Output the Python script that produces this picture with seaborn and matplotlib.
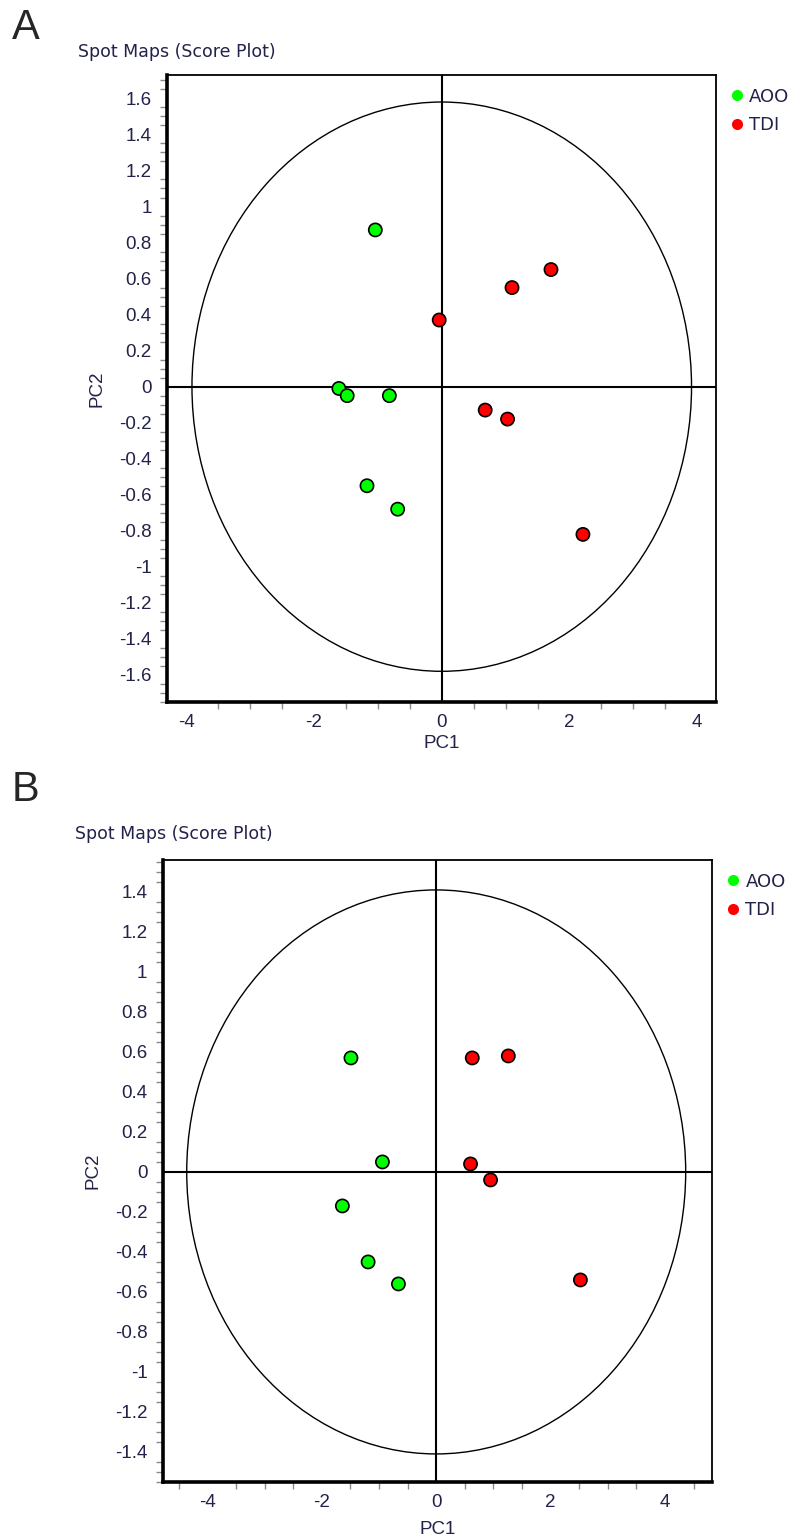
import matplotlib

matplotlib.use("Agg")

import matplotlib.pyplot as plt
import pandas as pd
import seaborn as sns
from matplotlib.lines import Line2D
from matplotlib.patches import Ellipse
from matplotlib.ticker import FixedLocator, FuncFormatter, MultipleLocator


GROUPS = ["AOO", "TDI"]
GROUP_COLORS = {"AOO": "#00ff00", "TDI": "#ff0000"}

# panel A scores
A_AOO_PC1 = [-1.04, -1.61, -1.48, -0.82, -1.17, -0.69]
A_AOO_PC2 = [0.87, -0.01, -0.05, -0.05, -0.55, -0.68]
A_TDI_PC1 = [1.71, 1.10, -0.04, 0.68, 1.03, 2.21]
A_TDI_PC2 = [0.65, 0.55, 0.37, -0.13, -0.18, -0.82]
A_ELLIPSE_AXES = [3.91, 1.58]  # Hotelling T2 semi-axes (PC1, PC2)
A_XTICKS = [-4, -2, 0, 2, 4]
A_YTICKS = [-1.6, -1.4, -1.2, -1.0, -0.8, -0.6, -0.4, -0.2, 0.0,
            0.2, 0.4, 0.6, 0.8, 1.0, 1.2, 1.4, 1.6]

# panel B scores
B_AOO_PC1 = [-1.49, -0.94, -1.64, -1.19, -0.66]
B_AOO_PC2 = [0.57, 0.05, -0.17, -0.45, -0.56]
B_TDI_PC1 = [0.63, 1.26, 0.60, 0.95, 2.52]
B_TDI_PC2 = [0.57, 0.58, 0.04, -0.04, -0.54]
B_ELLIPSE_AXES = [4.36, 1.41]
B_XTICKS = [-4, -2, 0, 2, 4]
B_YTICKS = [-1.4, -1.2, -1.0, -0.8, -0.6, -0.4, -0.2, 0.0,
            0.2, 0.4, 0.6, 0.8, 1.0, 1.2, 1.4]

TICK_FONT = "Liberation Sans"
UI_FONT = "DejaVu Sans"
TEXT_COLOR = "#22224a"


def scores_frame(aoo_x, aoo_y, tdi_x, tdi_y) -> pd.DataFrame:
    aoo = pd.DataFrame({"PC1": aoo_x, "PC2": aoo_y, "group": "AOO"})
    tdi = pd.DataFrame({"PC1": tdi_x, "PC2": tdi_y, "group": "TDI"})
    return pd.concat([aoo, tdi], ignore_index=True)


def fmt_tick(value, _pos) -> str:
    value = round(value, 2)
    if value == 0:
        return "0"
    return f"{value:g}"


def draw_panel(ax, data, ellipse_axes, xlim, ylim, xticks, yticks, xlabel_y, ylabel_x):
    ax.axhline(0, color="black", linewidth=1.5, zorder=1)
    ax.axvline(0, color="black", linewidth=1.5, zorder=1)
    ax.add_patch(
        Ellipse((0, 0), 2 * ellipse_axes[0], 2 * ellipse_axes[1],
                fill=False, edgecolor="black", linewidth=1.0, zorder=1)
    )
    sns.scatterplot(
        data=data,
        x="PC1",
        y="PC2",
        hue="group",
        hue_order=GROUPS,
        palette=GROUP_COLORS,
        s=90,
        edgecolor="black",
        linewidth=1.2,
        legend=False,
        zorder=3,
        ax=ax,
    )
    ax.set_xlim(*xlim)
    ax.set_ylim(*ylim)

    ax.xaxis.set_major_locator(FixedLocator(xticks))
    ax.yaxis.set_major_locator(FixedLocator(yticks))
    ax.xaxis.set_minor_locator(MultipleLocator(0.5))
    ax.yaxis.set_minor_locator(MultipleLocator(0.05))
    ax.xaxis.set_major_formatter(FuncFormatter(fmt_tick))
    ax.yaxis.set_major_formatter(FuncFormatter(fmt_tick))
    ax.tick_params(which="major", length=0, labelsize=13.5, labelcolor=TEXT_COLOR)
    ax.tick_params(axis="y", which="major", pad=11)
    ax.tick_params(axis="x", which="major", pad=9)
    ax.tick_params(which="minor", length=5, width=1.0, color="#8a8a8a")
    ax.tick_params(left=True, bottom=True, which="minor", direction="out")

    for side in ["left", "bottom"]:
        ax.spines[side].set_linewidth(2.6)
        ax.spines[side].set_color("black")
    for side in ["top", "right"]:
        ax.spines[side].set_linewidth(1.3)
        ax.spines[side].set_color("black")

    ax.set_xlabel("PC1", fontsize=13.5, color=TEXT_COLOR)
    ax.set_ylabel("PC2", fontsize=13.5, color=TEXT_COLOR)
    ax.xaxis.set_label_coords(0.5, xlabel_y)
    ax.yaxis.set_label_coords(ylabel_x, 0.5)

    handles = [
        Line2D([], [], marker="o", linestyle="", markersize=8,
               markerfacecolor=GROUP_COLORS[g], markeredgewidth=0)
        for g in GROUPS
    ]
    leg = ax.legend(
        handles, GROUPS,
        loc="upper left",
        bbox_to_anchor=(1.005, 1.0),
        frameon=False,
        handlelength=0.6,
        handletextpad=0.4,
        labelspacing=0.6,
        borderaxespad=0.3,
        prop={"family": UI_FONT, "size": 13},
    )
    for text in leg.get_texts():
        text.set_color(TEXT_COLOR)


def main() -> None:
    sns.set_theme(style="white")
    plt.rcParams["font.family"] = [TICK_FONT, "DejaVu Sans"]

    fig = plt.figure(figsize=(8.07, 15.40), dpi=100)
    ax_a = fig.add_axes([0.207, 0.5442, 0.680, 0.4071])
    ax_b = fig.add_axes([0.2016, 0.0377, 0.6807, 0.4039])

    draw_panel(
        ax_a,
        scores_frame(A_AOO_PC1, A_AOO_PC2, A_TDI_PC1, A_TDI_PC2),
        A_ELLIPSE_AXES, (-4.30, 4.29), (-1.75, 1.73), A_XTICKS, A_YTICKS,
        xlabel_y=-0.053, ylabel_x=-0.113,
    )
    draw_panel(
        ax_b,
        scores_frame(B_AOO_PC1, B_AOO_PC2, B_TDI_PC1, B_TDI_PC2),
        B_ELLIPSE_AXES, (-4.78, 4.82), (-1.55, 1.56), B_XTICKS, B_YTICKS,
        xlabel_y=-0.062, ylabel_x=-0.111,
    )

    fig.text(12 / 807, 1 - 8 / 1540, "A", fontsize=30, ha="left", va="top")
    fig.text(12 / 807, 1 - 770 / 1540, "B", fontsize=30, ha="left", va="top")
    fig.text(78 / 807, 1 - 52 / 1540, "Spot Maps (Score Plot)", fontsize=12.5,
             fontfamily=UI_FONT, color=TEXT_COLOR, ha="left", va="center")
    fig.text(75 / 807, 1 - 834 / 1540, "Spot Maps (Score Plot)", fontsize=12.5,
             fontfamily=UI_FONT, color=TEXT_COLOR, ha="left", va="center")

    fig.savefig("out.png", dpi=100, facecolor="white")
    plt.close(fig)


if __name__ == "__main__":
    main()
